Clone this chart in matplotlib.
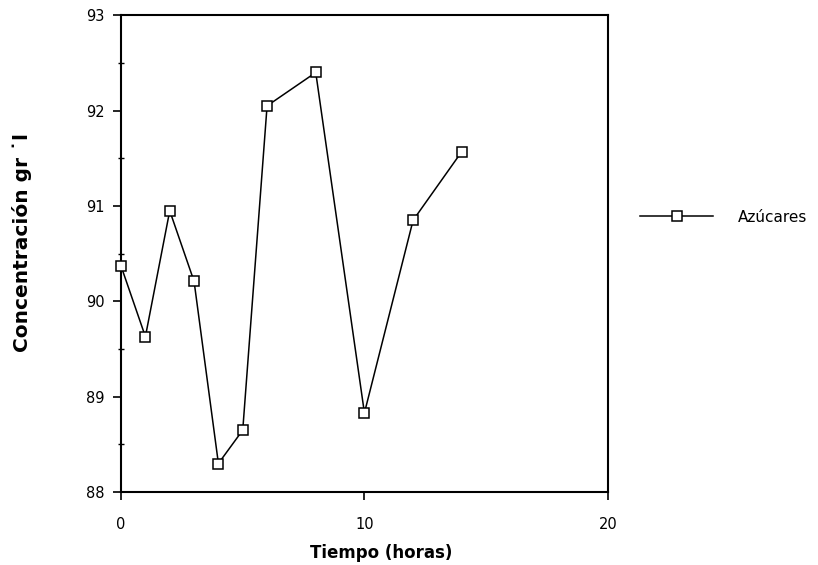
import matplotlib.pyplot as plt
from matplotlib.ticker import MultipleLocator

# datos
tiempo = [0, 1, 2, 3, 4, 5, 6, 8, 10, 12, 14]
azucares = [90.37, 89.63, 90.95, 90.21, 88.30, 88.65, 92.05, 92.40, 88.83, 90.85, 91.57]
xticks = [0, 10, 20]
yticks = [88, 89, 90, 91, 92, 93]

fig = plt.figure(figsize=(8.18, 5.65), dpi=100)
ax = fig.add_axes([0.148, 0.129, 0.595, 0.844])

ax.plot(tiempo, azucares, color='black', lw=1.1, marker='s', markersize=7,
        markerfacecolor='white', markeredgecolor='black', markeredgewidth=1.1,
        label='Azúcares', clip_on=False, zorder=3)

ax.set_xlim(0, 20)
ax.set_ylim(88, 93)
ax.set_xticks(xticks)
ax.set_yticks(yticks)
ax.yaxis.set_minor_locator(MultipleLocator(0.5))

for s in ax.spines.values():
    s.set_linewidth(1.5)
    s.set_color('black')

ax.tick_params(axis='both', which='major', direction='out', length=6, width=1.2,
               labelsize=10.5, colors='black')
ax.tick_params(axis='x', which='major', pad=12)
ax.tick_params(axis='y', which='major', pad=6)
ax.tick_params(axis='y', which='minor', direction='inout', length=5, width=1)

fig.text(381 / 818, 1 - 553 / 565, 'Tiempo (horas)', ha='center', va='center',
         fontsize=12, fontweight='bold')
fig.text(22 / 818, 1 - 242 / 565, 'Concentración gr ˙l', ha='center', va='center',
         rotation=90, fontsize=14.5, fontweight='bold')

fig.legend(loc='center left', bbox_to_anchor=(640 / 818, 1 - 217 / 565),
           frameon=False, fontsize=11, handlelength=4.8, handletextpad=1.6,
           borderpad=0, borderaxespad=0)

fig.savefig('out.png', dpi=100)
